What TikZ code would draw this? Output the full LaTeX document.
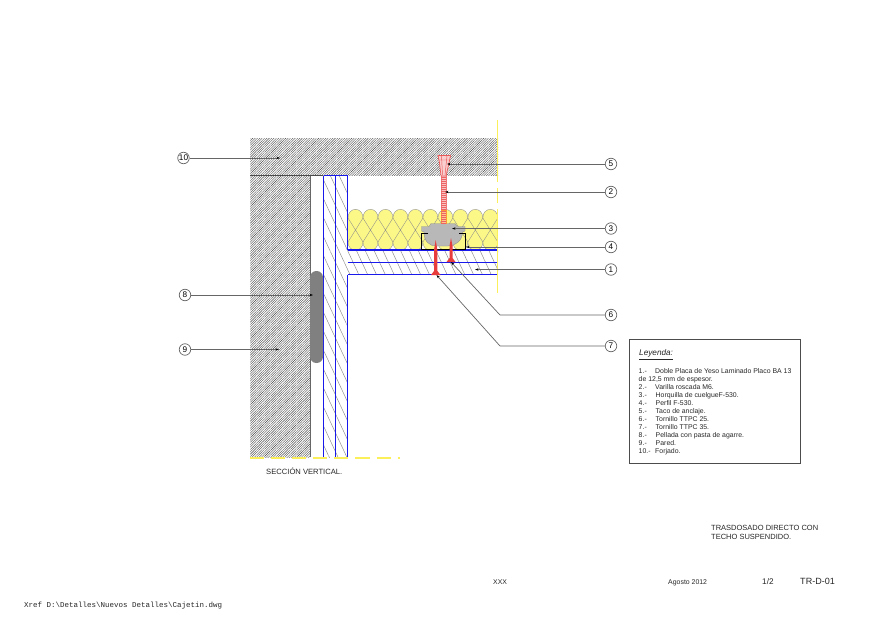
\documentclass[tikz,border=0pt]{standalone}
\usepackage{fontspec}
\setmainfont{Liberation Sans}
\setmonofont{Liberation Mono}
\usetikzlibrary{arrows.meta,patterns.meta}
\definecolor{azulPlaca}{RGB}{25,25,235}
\definecolor{amarilloLana}{RGB}{252,248,135}
\definecolor{amarilloEje}{RGB}{252,240,90}
\definecolor{rojoTornillo}{RGB}{232,60,60}
\begin{document}
\begin{tikzpicture}[
		x=0.03cm, y=-0.03cm,
		% Estilos de la leyenda y de las llamadas
		myCall/.style={circle, draw=black!60, line width=0.6pt, inner sep=0pt, minimum size=11.5*0.03cm, font=\fontsize{7}{7}\selectfont},
		myLeader/.style={draw=black!60, line width=0.6pt, -{Stealth[length=3pt,width=2pt,black]}},
		myText/.style={anchor=west, inner sep=0pt, text height=1.5ex, text depth=.3ex, text=black!85, font=\fontsize{5.9}{7}\selectfont},
		myPlaca/.style={draw=azulPlaca, line width=0.9pt},
		myPlacaV/.style={draw=azulPlaca, line width=1.4pt},
		myHatch/.style={pattern={Lines[angle=-65,distance=2.4mm,line width=0.4pt]}, pattern color=black!45},
		myFine/.style={pattern={Lines[angle=45,distance=0.5mm,line width=0.32pt]}, pattern color=black!75},
		myScrew/.style={fill=rojoTornillo, draw=none}
	]
	\useasboundingbox (0,0) rectangle (880,622);

	% --- 1. Forjado y pared ---
	\fill[myFine] (250,138) rectangle (498,175.5);
	\fill[myFine] (250,175.5) rectangle (310,457);
	\draw[black!70, line width=0.5pt] (250,175.5) -- (323,175.5);
	\draw[black!60, line width=0.4pt] (310,175.5) -- (310,457);

	% --- 2. Lana y placas ---
	\foreach \i in {0,...,9} {
		\pgfmathsetmacro{\xa}{348+14.98*\i}
		\pgfmathsetmacro{\xb}{\xa+14.98}
		\filldraw[fill=amarilloLana, draw=black!45, line width=0.3pt]
			(\xa,218) .. controls (\xa,206.5) and (\xb,206.5) .. (\xb,218)
			-- (\xa,242) .. controls (\xa,253) and (\xb,253) .. (\xb,242)
			-- (\xa,218) -- cycle;
		\fill[amarilloLana] (\xa,218) -- (\xb,218) -- (\xb,242) -- (\xa,242) -- cycle;
	}
	\foreach \i in {0,...,9} {
		\pgfmathsetmacro{\xa}{348+14.98*\i}
		\pgfmathsetmacro{\xb}{\xa+14.98}
		\draw[black!45, line width=0.3pt] (\xa,218) -- (\xb,242) (\xb,218) -- (\xa,242);
	}
	\fill[white] (348,250.5) rectangle (498,275);
	\fill[myHatch] (323.5,175.5) rectangle (335.5,457);
	\fill[myHatch] (335.5,175.5) rectangle (347.5,457);
	\fill[myHatch] (347.5,250) rectangle (498,262.5);
	\fill[myHatch] (347.5,262.5) rectangle (498,274.5);
	\draw[myPlaca] (323.5,175.5) -- (347.5,175.5);
	\draw[myPlacaV] (323.5,457) -- (323.5,175.5);
	\draw[myPlacaV] (335.5,175.5) -- (335.5,457);
	\draw[myPlacaV] (347.5,175.5) -- (347.5,250);
	\draw[myPlacaV] (347.5,274.5) -- (347.5,457);
	\draw[myPlaca] (347.5,250) -- (498,250);
	\draw[myPlaca] (347.5,262.5) -- (498,262.5);
	\draw[myPlaca] (498,274.5) -- (347.5,274.5);

	% --- 3. Pellada ---
	\fill[black!50, rounded corners=1.9mm] (310,271) rectangle (323,363);

	% --- 4. Horquilla, perfil, varilla y tornillos ---
	\filldraw[fill=black!28, draw=black!45, line width=0.3pt] (421.5,226.5) -- (429,226.5) -- (431,223.5) -- (455,223.5)
		-- (457,226.5) -- (465,226.5) -- (465,231) -- (462.5,232)
		.. controls (462.5,241) and (455,246) .. (448,246) -- (436,246)
		.. controls (429,246) and (424,241) .. (424,232) -- (421.5,231) -- cycle;
	\draw[black, line width=0.8pt] (428,233) -- (421.5,233) -- (421.5,249) -- (465,249) -- (465,233) -- (459,233);

	\filldraw[fill=rojoTornillo!30, draw=rojoTornillo!70, line width=0.4pt] (441,175) rectangle (446,210);
	\filldraw[fill=orange!45, draw=orange!80, line width=0.4pt] (441,210) rectangle (446,223.5);
	\draw[rojoTornillo!80, line width=4pt, dash pattern=on 0.4pt off 1.3pt] (443.5,175) -- (443.5,223);
	\filldraw[fill=rojoTornillo!25, draw=rojoTornillo!85, line width=0.6pt] (438,155.5) -- (450.5,155.5) -- (449,163) -- (446,176) -- (441,176) -- (439.5,163) -- cycle;
	\draw[rojoTornillo!85, line width=0.4pt] (441.5,156) -- (442.5,175) (447,156) -- (445,175) (438.5,160) -- (449.5,160);

	\fill[myScrew] (435.7,240) -- (437.4,250) -- (437.4,271) -- (440.5,275) -- (431,275) -- (434,271) -- (434,250) -- cycle;
	\fill[myScrew] (451,238) -- (452.5,246) -- (452.5,258) -- (455.5,262) -- (446.5,262) -- (449.5,258) -- (449.5,246) -- cycle;

	% --- 5. Ejes amarillos ---
	\draw[amarilloEje, line width=1.3pt, dash pattern=on 53pt off 5pt on 12.8pt off 5pt on 72pt off 2pt] (497.5,120) -- (497.5,294);
	\draw[amarilloEje, line width=0.9pt, dash pattern=on 12pt off 6pt] (250,458) -- (400,458);

	% --- 6. Llamadas ---
	\node[myCall] (c10) at (183.5,158) {10};
	\node[myCall] (c8) at (185,295) {8};
	\node[myCall] (c9) at (185,349.5) {9};
	\node[myCall] (c5) at (611,164) {5};
	\node[myCall] (c2) at (611,192) {2};
	\node[myCall] (c3) at (611,228.5) {3};
	\node[myCall] (c4) at (611,247) {4};
	\node[myCall] (c1) at (611,269.5) {1};
	\node[myCall] (c6) at (611,315) {6};
	\node[myCall] (c7) at (611,346) {7};

	\coordinate (p10) at (280,158);
	\coordinate (p8) at (313,295);
	\coordinate (p9) at (279,349.5);
	\coordinate (p5) at (447,164);
	\coordinate (p2) at (445,192);
	\coordinate (p3) at (452,228.5);
	\coordinate (p4) at (466,247);
	\coordinate (p1) at (475,269.5);
	\coordinate (p6) at (451,262);
	\coordinate (p7) at (436.5,275);
	\coordinate (k6) at (500,315);
	\coordinate (k7) at (500,346);

	\foreach \n in {10,8,9,5,2,3,4,1}
		\draw[myLeader] (c\n) -- (p\n);
	\draw[myLeader] (c6) -- (k6) -- (p6);
	\draw[myLeader] (c7) -- (k7) -- (p7);

	% --- 7. Leyenda ---
	\node[draw=black!70, line width=0.6pt, minimum width=171.5*0.03cm, minimum height=123.5*0.03cm, inner sep=0pt] (legend) at (715,401.2) {};
	\node[myText, font=\fontsize{7}{8}\selectfont\itshape] (legendTitle) at (639,352) {\underline{Leyenda:}};
	\node[myText] (l1) at (638.5,369.3) {1.-};
	\node[myText] (t1) at (655,369.3) {Doble Placa de Yeso Laminado Placo BA 13};
	\node[myText] (t1b) at (638.5,377.3) {de 12,5 mm de espesor.};
	\foreach \n/\txt/\yy/\xx in {2/{Varilla roscada M6.}/385.3/655,3/{Horquilla de cuelgueF-530.}/393.3/655.5,4/{Perfil F-530.}/401.3/655.5,5/{Taco de anclaje.}/409.3/655.5,6/{Tornillo TTPC 25.}/417.3/655.5,7/{Tornillo TTPC 35.}/425.3/655.5,8/{Pellada con pasta de agarre.}/433.8/655.5,9/{Pared.}/441.7/655.5,10/{Forjado.}/450/655} {
		\node[myText] (l\n) at (638.5,\yy) {\n.-};
		\node[myText] (t\n) at (\xx,\yy) {\txt};
	}

	% --- 8. Rótulos ---
	\node[myText, font=\fontsize{6.5}{8}\selectfont] (section) at (266,470.5) {SECCIÓN VERTICAL.};
	\node[myText, font=\fontsize{6.4}{8}\selectfont] (title1) at (711,527) {TRASDOSADO DIRECTO CON};
	\node[myText, font=\fontsize{6.4}{8}\selectfont] (title2) at (711,536) {TECHO SUSPENDIDO.};
	\node[myText] (xxx) at (493,581) {XXX};
	\node[myText] (date) at (668,581) {Agosto 2012};
	\node[myText, font=\fontsize{7}{8}\selectfont] (sheet) at (762,581) {1/2};
	\node[myText, font=\fontsize{7.7}{8}\selectfont] (code) at (800,581) {TR-D-01};
	\node[myText, font=\ttfamily\fontsize{6.4}{8}\selectfont] (xref) at (24,604) {Xref D:\textbackslash Detalles\textbackslash Nuevos Detalles\textbackslash Cajetin.dwg};
\end{tikzpicture}
\end{document}
